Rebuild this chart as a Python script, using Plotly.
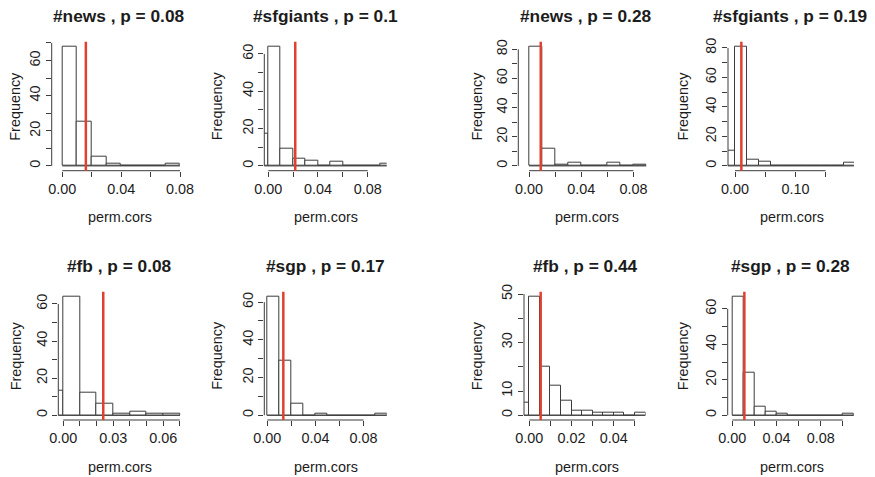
import plotly.graph_objects as go

# ---------------- data ----------------
titles = ["#news , p = 0.08", "#sfgiants , p = 0.1", "#news , p = 0.28", "#sfgiants , p = 0.19",
          "#fb , p = 0.08", "#sgp , p = 0.17", "#fb , p = 0.44", "#sgp , p = 0.28"]
bin_start = [0.0, -0.01, 0.0, -0.02, -0.01, 0.0, -0.005, 0.0]
bin_width = [0.01, 0.01, 0.01, 0.02, 0.01, 0.01, 0.005, 0.01]
counts_news_a = [68, 25, 5, 1, 0, 0, 0, 1]
counts_sfgiants_a = [17, 64, 9, 4, 3, 0, 2, 0, 0, 0, 1]
counts_news_b = [82, 12, 1, 2, 0, 0, 2, 0, 1]
counts_sfgiants_b = [10, 81, 4, 3, 0, 0, 0, 0, 0, 0, 2]
counts_fb_a = [13, 64, 12, 6, 1, 2, 1, 1]
counts_sgp_a = [63, 29, 6, 0, 1, 0, 0, 0, 0, 1]
counts_fb_b = [5, 49, 20, 12, 6, 2, 2, 1, 1, 1, 0, 1]
counts_sgp_b = [67, 24, 5, 2, 1, 0, 0, 0, 0, 0, 1]
counts = [counts_news_a, counts_sfgiants_a, counts_news_b, counts_sfgiants_b,
          counts_fb_a, counts_sgp_a, counts_fb_b, counts_sgp_b]
observed = [0.016, 0.0217, 0.009, 0.0105, 0.024, 0.0133, 0.0054, 0.0109]

x_tickvals = [
    [0, 0.02, 0.04, 0.06, 0.08],
    [0, 0.02, 0.04, 0.06, 0.08],
    [0, 0.02, 0.04, 0.06, 0.08],
    [0, 0.05, 0.10, 0.15],
    [0, 0.01, 0.02, 0.03, 0.04, 0.05, 0.06, 0.07],
    [0, 0.02, 0.04, 0.06, 0.08],
    [0, 0.01, 0.02, 0.03, 0.04, 0.05],
    [0, 0.02, 0.04, 0.06, 0.08, 0.10],
]
x_ticktext = [
    ["0.00", "", "0.04", "", "0.08"],
    ["0.00", "", "0.04", "", "0.08"],
    ["0.00", "", "0.04", "", "0.08"],
    ["0.00", "", "0.10", ""],
    ["0.00", "", "", "0.03", "", "", "0.06", ""],
    ["0.00", "", "0.04", "", "0.08"],
    ["0.00", "", "0.02", "", "0.04", ""],
    ["0.00", "", "0.04", "", "0.08", ""],
]
y_tickvals = [
    [0, 10, 20, 30, 40, 50, 60, 70],
    [0, 10, 20, 30, 40, 50, 60],
    [0, 10, 20, 30, 40, 50, 60, 70, 80],
    [0, 10, 20, 30, 40, 50, 60, 70, 80],
    [0, 10, 20, 30, 40, 50, 60],
    [0, 10, 20, 30, 40, 50, 60],
    [0, 10, 20, 30, 40, 50],
    [0, 10, 20, 30, 40, 50, 60],
]
y_ticktext = [
    ["0", "", "20", "", "40", "", "60", ""],
    ["0", "", "20", "", "40", "", "60"],
    ["0", "", "20", "", "40", "", "60", "", "80"],
    ["0", "", "20", "", "40", "", "60", "", "80"],
    ["0", "", "20", "", "40", "", "60"],
    ["0", "", "20", "", "40", "", "60"],
    ["0", "10", "", "30", "", "50"],
    ["0", "", "20", "", "40", "", "60"],
]
x_label = "perm.cors"
y_label = "Frequency"

# ---------------- layout geometry (window pixels) ----------------
WIN_W, WIN_H = 875, 477
OFF = 8  # default page margin around the plot div
W, H = WIN_W - OFF, WIN_H - OFF

panel_px_x = [(51.7, 180.5), (264.3, 386.7), (518.3, 646.7), (728, 854),
              (58.3, 180.5), (264.3, 386.7), (524, 645.5), (727.7, 854)]
panel_xrange = [(-0.0072, 0.0803), (-0.0032, 0.0953), (-0.0082, 0.0902), (-0.0116, 0.197),
                (-0.003, 0.0704), (-0.0025, 0.0992), (-0.0025, 0.055), (-0.0042, 0.1102)]
row_px_y = [(41.7, 170.7), (291.7, 420.0)]
title_cx = [119.5, 325, 585.5, 790.3]
title_cy = [16.5, 265.5]
xlab_cx = [120, 325.8, 586.7, 792]
xlab_cy = [216.7, 466.7]
ylab_cx = [15.5, 217.0, 477.3, 683.3]


def px_x(p):
    return (p - OFF) / W


def px_y(p):
    return 1 - (p - OFF) / H


FONT = "Liberation Sans, Arial, Helvetica, sans-serif"
INK = "#1c1c1c"
EDGE = "#3c3c3c"
RED = "#e0412f"
FS = 14.4

fig = go.Figure()
shapes = []
annotations = []

for i in range(8):
    n = i + 1
    suf = "" if n == 1 else str(n)
    row, col = divmod(i, 4)
    bw = bin_width[i]
    cts = counts[i]
    edges = [bin_start[i] + k * bw for k in range(len(cts) + 1)]
    centers = [(edges[k] + edges[k + 1]) / 2 for k in range(len(cts))]
    fig.add_trace(go.Bar(
        x=centers, y=cts, width=[bw] * len(cts),
        marker=dict(color="white", line=dict(color=EDGE, width=1)),
        xaxis="x" + suf, yaxis="y" + suf, hoverinfo="skip", showlegend=False))
    # baseline under empty bins (as drawn by zero-height rectangles)
    fig.add_trace(go.Scatter(
        x=[edges[0], edges[-1]], y=[0, 0], mode="lines",
        line=dict(color=EDGE, width=1), xaxis="x" + suf, yaxis="y" + suf,
        hoverinfo="skip", showlegend=False))

    L, R = panel_px_x[i]
    T, B = row_px_y[row]
    M = max(cts)
    fig.layout["xaxis" + suf] = dict(
        domain=[px_x(L), px_x(R)], range=list(panel_xrange[i]), anchor="y" + suf,
        showgrid=False, zeroline=False, showline=False, automargin=False,
        ticks="outside", ticklen=5, tickwidth=1, tickcolor=EDGE,
        tickmode="array", tickvals=x_tickvals[i], ticktext=x_ticktext[i],
        tickfont=dict(family=FONT, size=FS, color=INK), fixedrange=True)
    fig.layout["yaxis" + suf] = dict(
        domain=[px_y(B), px_y(T)], range=[-0.04 * M, 1.04 * M], anchor="x" + suf,
        showgrid=False, zeroline=False, showline=False, automargin=False,
        ticks="outside", ticklen=5, tickwidth=1, tickcolor=EDGE,
        tickmode="array", tickvals=y_tickvals[i], ticktext=y_ticktext[i], tickangle=-90,
        tickfont=dict(family=FONT, size=FS, color=INK), fixedrange=True)

    # R-style axis lines spanning only the tick range
    shapes.append(dict(type="line", xref="x" + suf + " domain", x0=0, x1=0,
                       yref="y" + suf, y0=y_tickvals[i][0], y1=y_tickvals[i][-1],
                       line=dict(color=EDGE, width=1)))
    shapes.append(dict(type="line", yref="y" + suf + " domain", y0=0, y1=0,
                       xref="x" + suf, x0=x_tickvals[i][0], x1=x_tickvals[i][-1],
                       line=dict(color=EDGE, width=1)))
    # observed value
    shapes.append(dict(type="line", xref="x" + suf, x0=observed[i], x1=observed[i],
                       yref="y" + suf + " domain", y0=0, y1=1,
                       line=dict(color=RED, width=2.5), layer="above"))

    annotations.append(dict(text="<b>" + titles[i] + "</b>", xref="paper", yref="paper",
                            x=px_x(title_cx[col]), y=px_y(title_cy[row]),
                            xanchor="center", yanchor="middle", showarrow=False,
                            font=dict(family=FONT, size=17.3, color=INK)))
    annotations.append(dict(text=x_label, xref="paper", yref="paper",
                            x=px_x(xlab_cx[col]), y=px_y(xlab_cy[row]),
                            xanchor="center", yanchor="middle", showarrow=False,
                            font=dict(family=FONT, size=FS, color=INK)))
    annotations.append(dict(text=y_label, xref="paper", yref="paper",
                            x=px_x(ylab_cx[col]), y=px_y((T + B) / 2),
                            xanchor="center", yanchor="middle", textangle=-90,
                            showarrow=False,
                            font=dict(family=FONT, size=FS, color=INK)))

fig.update_layout(template="none", width=W, height=H, margin=dict(l=0, r=0, t=0, b=0),
                  paper_bgcolor="white", plot_bgcolor="white",
                  bargap=0, shapes=shapes, annotations=annotations, showlegend=False)

fig.write_html("out.html")
